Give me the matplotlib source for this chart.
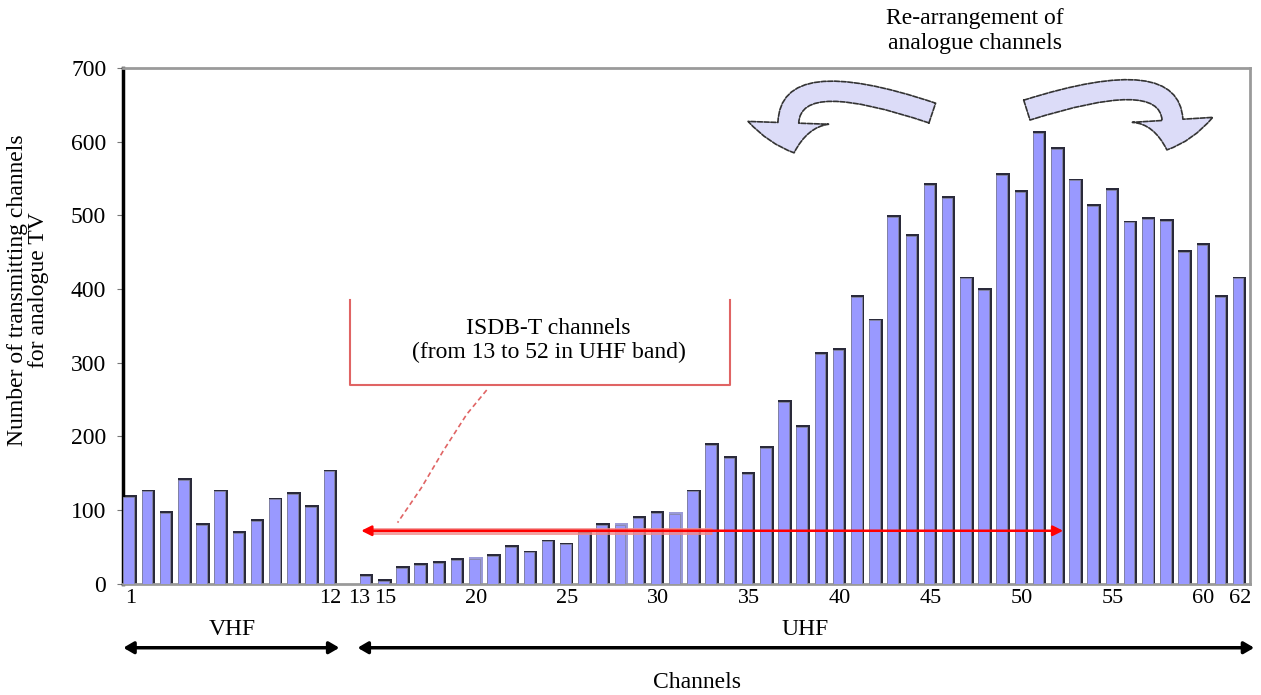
import numpy as np
import matplotlib.pyplot as plt
from matplotlib.patches import FancyArrowPatch
from matplotlib.path import Path

plt.rcParams['font.family'] = ['Liberation Serif', 'DejaVu Serif']

# Number of transmitting channels for analogue TV, per channel
channels = np.arange(1, 63)
counts = np.array([
    120, 128, 99, 143, 82, 128, 71, 88, 117, 124, 107, 155,          # VHF 1-12
    0, 13, 6, 24, 28, 31, 35, 36, 40, 53, 45, 60, 56, 71, 82, 82,    # 13-28
    92, 99, 97, 128, 191, 173, 152, 187, 249, 216, 314, 320, 392,    # 29-41
    360, 501, 475, 544, 526, 417, 401, 557, 535, 614, 593, 550,      # 42-53
    516, 537, 493, 498, 495, 453, 463, 392, 417                      # 54-62
])
faded = [20, 28, 31]   # bars drawn without the dark edge
xtick_channels = [1, 12, 13, 15, 20, 25, 30, 35, 40, 45, 50, 55, 60, 62]
yticks = np.arange(0, 701, 100)

fs = 17
fig = plt.figure(figsize=(12.61, 6.95), dpi=100)
ax = fig.add_axes([0.0975, 0.160, 0.8935, 0.742])

# bars: dark edge behind, light face in front
bar_w = 0.74
shadow = ['#9a9ad8' if c in faded else '#2a2a3a' for c in channels]
ax.bar(channels, counts, width=bar_w, color=shadow, zorder=2)
ax.bar(channels - 0.08, np.clip(counts - 2.5, 0, None), width=bar_w - 0.16,
       color='#9999ff', edgecolor='#8888a8', linewidth=0.6, zorder=3)

ax.set_xlim(0.6, 62.55)
ax.set_ylim(0, 700)
ax.set_xticks(xtick_channels)
xlabels = ax.set_xticklabels([str(c) for c in xtick_channels], fontsize=16)
xlabels[2].set_ha('left')   # "13" sits tight against "12"
ax.set_yticks(yticks)
ax.set_yticklabels([str(v) for v in yticks], fontsize=fs)
ax.tick_params(axis='x', length=0, pad=4)
ax.tick_params(axis='y', length=4, color='#777777', pad=8)

for side in ['top', 'right', 'bottom']:
    ax.spines[side].set_color('#9a9a9a')
    ax.spines[side].set_linewidth(2)
ax.spines['left'].set_linewidth(2.5)
ax.spines['left'].set_color('black')

ax.set_ylabel('Number of transmitting channels\nfor analogue TV', fontsize=fs,
              linespacing=1.0)
ax.yaxis.set_label_coords(-0.066, 0.57)
fig.text(697 / 1261, 1 - 683 / 695, 'Channels', ha='center', va='center', fontsize=fs)

# VHF / UHF bands below the axis
tr = ax.get_xaxis_transform()
for x0, x1, name, xt in [(0.62, 12.5, 'VHF', 6.6), (13.5, 62.8, 'UHF', 38.1)]:
    ax.annotate('', xy=(x0, -0.124), xytext=(x1, -0.124), xycoords=tr, textcoords=tr,
                annotation_clip=False,
                arrowprops=dict(arrowstyle='<|-|>,head_length=0.6,head_width=0.35',
                                color='black', lw=2.5, shrinkA=0, shrinkB=0))
    ax.text(xt, -0.088, name, transform=tr, ha='center', va='center', fontsize=fs)

# ISDB-T bracket box
red = '#e06464'
ax.plot([13.1, 13.1, 34.0, 34.0], [385, 270, 270, 385], color=red, lw=1.5, zorder=4)
ax.text(24.0, 330, 'ISDB-T channels\n(from 13 to 52 in UHF band)', ha='center',
        va='center', fontsize=fs, linespacing=1.2)
ax.plot([20.6, 19.5, 18.2, 17.0, 15.7], [263, 230, 180, 130, 83],
        color=red, lw=1.2, ls=(0, (3, 2)), zorder=4)

# ISDB-T channel range arrow
ax.plot([14.2, 33.0], [72, 72], color='#f08a8a', lw=5, alpha=0.8, zorder=5,
        solid_capstyle='butt')
ax.annotate('', xy=(52.3, 72), xytext=(13.7, 72),
            arrowprops=dict(arrowstyle='<|-|>,head_length=0.6,head_width=0.3',
                            color='red', lw=1.8, shrinkA=0, shrinkB=0), zorder=6)

# re-arrangement arrows: tail, control, tip
curves = [[(45.1, 639), (35.6, 718), (37.5, 585)],
          [(50.3, 643), (59.9, 718), (58.0, 589)]]
for pts in curves:
    p = Path(pts, [Path.MOVETO, Path.CURVE3, Path.CURVE3])
    arr = FancyArrowPatch(path=p,
                          arrowstyle='simple,head_width=2.9,head_length=1.1,tail_width=0.75',
                          mutation_scale=20, facecolor='#dcdcf8', edgecolor='#333333',
                          linewidth=1.2, linestyle=(0, (3, 1)), zorder=6, clip_on=False)
    ax.add_patch(arr)

fig.text(975 / 1261, 1 - 31 / 695, 'Re-arrangement of\nanalogue channels',
         ha='center', va='center', fontsize=fs, linespacing=1.2)

fig.savefig('out.png', dpi=100)
